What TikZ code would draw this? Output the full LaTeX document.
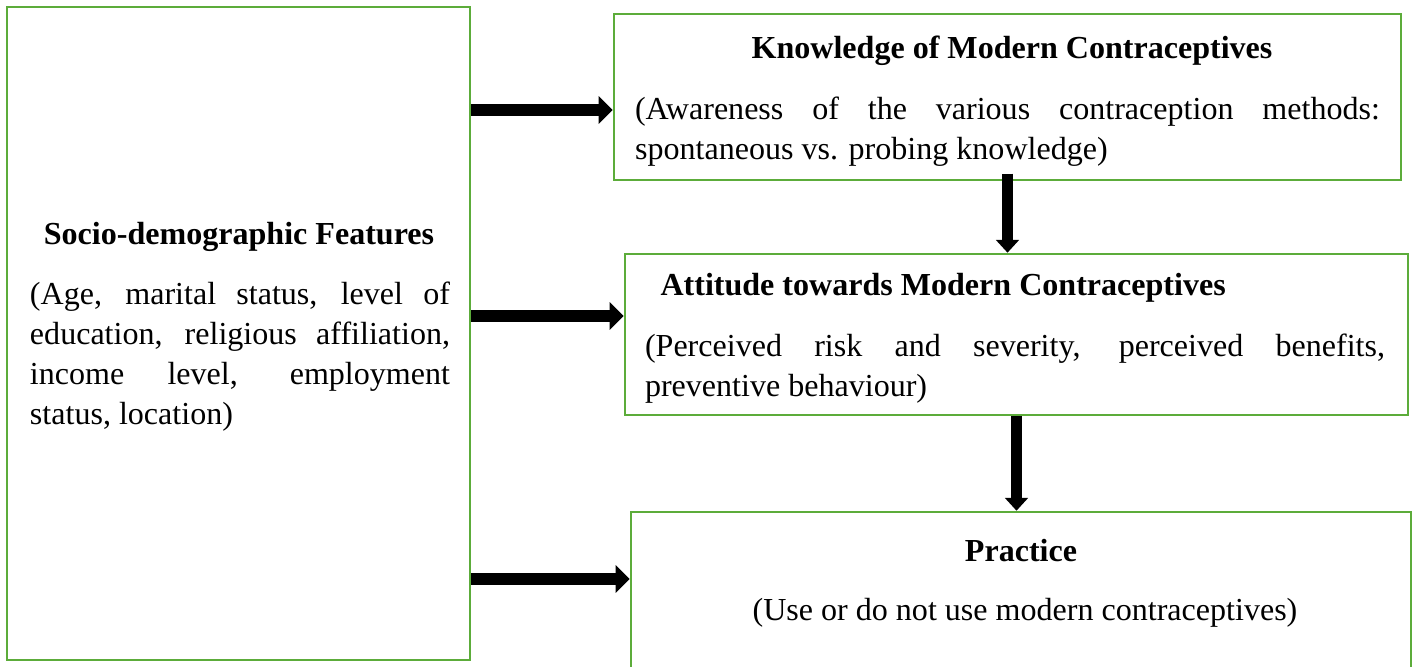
\documentclass[tikz,border=0pt]{standalone}
\usepackage{fontspec}
\setmainfont{Liberation Serif}
\usetikzlibrary{arrows.meta,fit}
\definecolor{boxgreen}{RGB}{92,172,58}
\hyphenpenalty=10000
\tikzset{
  box/.style={draw=boxgreen, line width=1pt, inner sep=0pt},
  head/.style={inner sep=0pt, font=\fontsize{12.5}{15.6}\selectfont\bfseries},
  para/.style={inner sep=0pt, align=justify, font=\fontsize{12.5}{15.6}\selectfont},
  plain/.style={inner sep=0pt, font=\fontsize{12.5}{15.6}\selectfont},
  fatarrow/.style={line width=5pt, -{Triangle[length=5.5pt,width=10.5pt]}},
  downarrow/.style={line width=4.3pt, -{Triangle[length=5pt,width=8.8pt]}}
}
\begin{document}
\begin{tikzpicture}[x=0.39pt,y=-0.39pt]
	\useasboundingbox (0,0) rectangle (1414,666);
	% boxes
	\node[box, fit={(7,7) (470,660)}] (sdf) {};
	\node[box, fit={(614,14) (1401,180)}] (kn) {};
	\node[box, fit={(625,254) (1408,415)}] (att) {};
	\node[box, fit={(631,512) (1411,668)}] (pr) {};
	% texts
	\node[head] (sdfh) at (239,236.5) {Socio-demographic Features};
	\node[para, text width=163.8pt] (sdft) at (240,357) {(Age, marital status, level of\linebreak education, religious affiliation,\linebreak income level, employment\linebreak status, location)};
	\node[head] (knh) at (1012,50.5) {Knowledge of Modern Contraceptives};
	\node[para, text width=290.5pt] (knt) at (1007.5,132) {(Awareness of the various contraception methods:\linebreak spontaneous vs. probing knowledge)};
	\node[head, anchor=west] (atth) at (660,287.5) {Attitude towards Modern Contraceptives};
	\node[para, text width=288.6pt] (attt) at (1015,368.5) {(Perceived risk and severity, perceived benefits,\linebreak preventive behaviour)};
	\node[head] (prh) at (1021,551) {Practice};
	\node[plain] (prt) at (1025,613) {(Use or do not use modern contraceptives)};
	% arrows
	\draw[fatarrow] (sdf.east |- 0,110) -- (kn.west |- 0,110);
	\draw[fatarrow] (sdf.east |- 0,316) -- (att.west |- 0,316);
	\draw[fatarrow] (sdf.east |- 0,579) -- (pr.west |- 0,579);
	\draw[downarrow] ([yshift=3pt]kn.south) -- (kn.south |- att.north);
	\draw[downarrow] (att.south) -- (att.south |- pr.north);
\end{tikzpicture}
\end{document}
